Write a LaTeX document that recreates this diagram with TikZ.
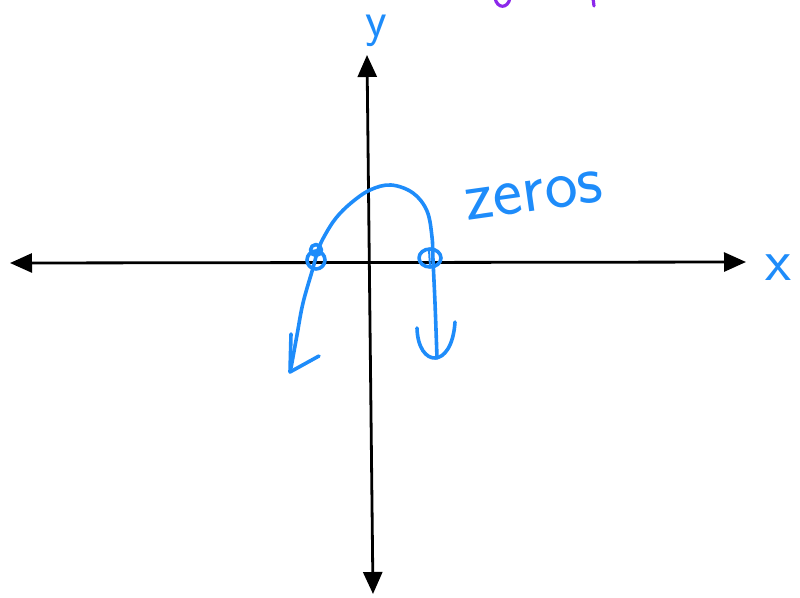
\documentclass[tikz,border=0pt]{standalone}
\usepackage{tikz}
\usetikzlibrary{arrows.meta}

\definecolor{penblue}{RGB}{30,140,250}
\definecolor{penpurple}{RGB}{140,40,235}

\begin{document}
\begin{tikzpicture}[x=1pt,y=-1pt,>={Triangle[length=22pt,width=19pt]},
    axis/.style={line width=2.8pt,<->},
    ink/.style={penblue,line width=3.6pt,line cap=round,line join=round},
    hand/.style={penblue,font=\sffamily,inner sep=1pt}]
  \useasboundingbox (0,0) rectangle (800,597);

  % ================= 坐标轴 =================
  \coordinate (xl) at (10,263);
  \coordinate (xr) at (746,262);
  \coordinate (yt) at (367,55);
  \coordinate (yb) at (373,594);
  \draw[axis] (xl) -- (xr);
  \draw[axis] (yb) -- (yt);

  % 轴标签
  \node[hand,font=\sffamily\fontsize{50}{50}\selectfont] (ylab) at (376,31) {y};
  \node[hand,font=\sffamily\fontsize{60}{60}\selectfont,anchor=west] (xlab) at (764,268) {x};

  % ================= 曲线 =================
  \draw[ink] plot[smooth,tension=0.6] coordinates {
    (291,368) (297,335) (303,303) (313,268) (318,250) (325,235) (336,218)
    (351,203) (370,190) (391,185) (413,193) (427,211) (432,237) (433,260)
    (435,303) (437,358)};

  % 左端箭头 (开口)
  \draw[ink] (291,334) -- (290,372) -- (319,356);
  % 右端箭头 (U 形)
  \draw[ink] (417,328) .. controls (418,368) and (452,370) .. (455,322);

  % 零点圈
  \draw[ink] (316,260) circle[radius=9];
  \draw[ink] (316,250) circle[radius=5.5];
  \draw[ink] (430,258) ellipse[x radius=11,y radius=9];
  \draw[ink,line width=2pt] (429,250) -- (430,266);

  % 零点标注
  \node[hand,font=\sffamily\fontsize{70}{70}\selectfont,rotate=8] (zeros) at (534,196) {zeros};

  % ================= 顶部紫色残笔 =================
  \draw[penpurple,line width=3.2pt,line cap=round]
    (495,-2) .. controls (497,9) and (508,9) .. (510,-2);
  \draw[penpurple,line width=3.2pt,line cap=round] (593,-2) -- (594,6);
\end{tikzpicture}
\end{document}
